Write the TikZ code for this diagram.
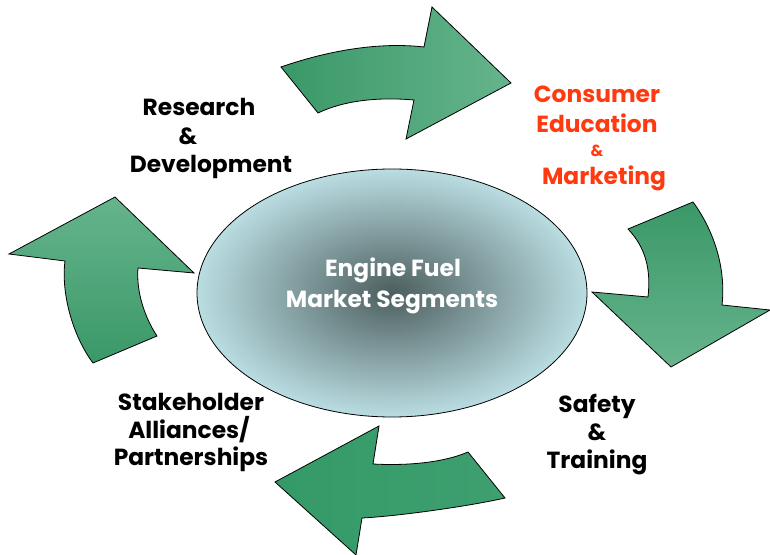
\documentclass[tikz,border=0pt]{standalone}
\usepackage{fontspec}
\setmainfont{Poppins}
\definecolor{arrowdark}{HTML}{3A9868}
\definecolor{arrowlight}{HTML}{66B48C}
\definecolor{arrowmid}{HTML}{349A68}
\definecolor{hubout}{HTML}{BADDE2}
\definecolor{hubin}{HTML}{4C5E5E}
\definecolor{redtext}{HTML}{FF3A10}
\tikzset{
  lbl/.style={font=\bfseries\fontsize{17.5}{20}\selectfont, anchor=base, inner sep=0pt},
  small/.style={font=\bfseries\fontsize{12}{14}\selectfont, anchor=base, inner sep=0pt},
  bigarrow/.style={draw=black, line width=0.6pt, line join=miter}
}
\begin{document}
\begin{tikzpicture}[x=0.75pt, y=-0.75pt]
        \useasboundingbox (0,0) rectangle (770,555);

        % centre ellipse
        \shade[draw=black, line width=0.6pt, inner color=hubin, outer color=hubout]
            (392,293) ellipse [x radius=195, y radius=124];

        % top arrow
        \shade[bigarrow, left color=arrowdark, right color=arrowlight]
            (281,67) .. controls (330,50) and (380,42) .. (424,47)
            -- (432,7) -- (511,83) -- (406,139) -- (414,100)
            .. controls (380,97) and (345,100) .. (318,113) -- cycle;
        % right arrow
        \shade[bigarrow, top color=arrowdark, bottom color=arrowlight]
            (628,229) -- (693,202) .. controls (715,232) and (726,270) .. (722,305)
            -- (770,310) -- (671,367) -- (592,292) -- (648,297)
            .. controls (651,270) and (646,248) .. cycle;
        % bottom arrow
        \shade[bigarrow, left color=arrowmid, right color=arrowmid!95!white]
            (468,452) -- (505,498) .. controls (470,506) and (400,516) .. (362,518)
            -- (356,555) -- (275,482) -- (379,426) -- (373,464)
            .. controls (410,466) and (445,462) .. cycle;
        % left arrow
        \shade[bigarrow, top color=arrowlight, bottom color=arrowdark]
            (93,363) -- (157,336) .. controls (145,318) and (136,292) .. (138,268)
            -- (194,273) -- (115,197) -- (9,254) -- (65,261)
            .. controls (61,292) and (72,335) .. cycle;

        % hub text
        \node[lbl, text=white] (hub1) at (393,277) {Engine Fuel};
        \node[lbl, text=white] (hub2) at (392,308) {Market Segments};

        % labels
        \node[lbl] (rd1) at (199,116) {Research};
        \node[lbl] (rd2) at (188,145) {\&};
        \node[lbl] (rd3) at (211,173) {Development};

        \node[lbl, text=redtext] (ce1) at (597,103) {Consumer};
        \node[lbl, text=redtext] (ce2) at (597,133) {Education};
        \node[small, text=redtext] (ce3) at (597,157) {\&};
        \node[lbl, text=redtext] (ce4) at (604,185) {Marketing};

        \node[lbl] (st1) at (597,412) {Safety};
        \node[lbl] (st2) at (597,440) {\&};
        \node[lbl] (st3) at (597,468) {Training};

        \node[lbl] (sa1) at (191,410) {Stakeholder};
        \node[lbl] (sa2) at (189,438) {Alliances/};
        \node[lbl] (sa3) at (191,465) {Partnerships};

    \end{tikzpicture}
\end{document}
